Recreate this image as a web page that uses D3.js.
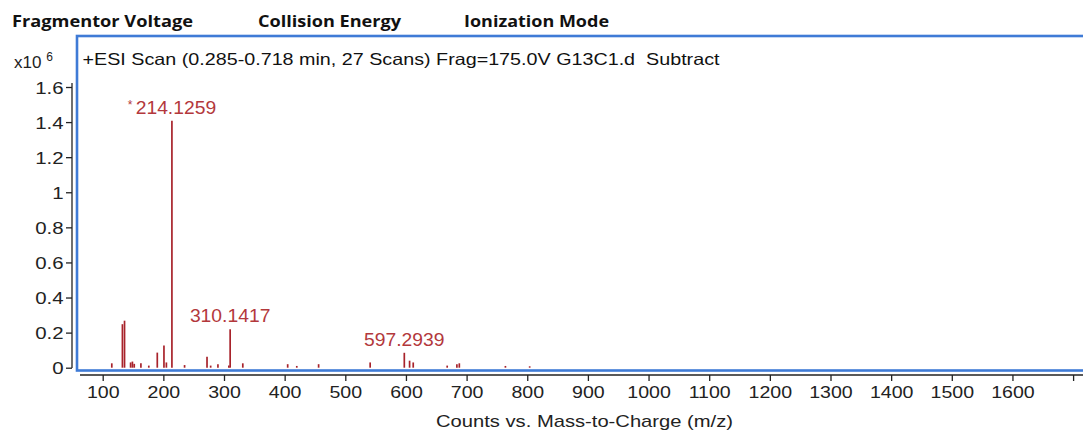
<!DOCTYPE html>
<html><head><meta charset="utf-8">
<script src="https://cdn.jsdelivr.net/npm/d3@7"></script>
<style>body{margin:0;background:#fff}svg{display:block}text{white-space:pre}</style>
</head><body>
<svg id="c" width="1083" height="433"></svg>
<script>
const headers = ["Fragmentor Voltage", "Collision Energy", "Ionization Mode"];
const titleText = "+ESI Scan (0.285-0.718 min, 27 Scans) Frag=175.0V G13C1.d  Subtract";
const xLabel = "Counts vs. Mass-to-Charge (m/z)";
const peakMz = [115, 132.5, 136, 146, 149, 152, 163, 176, 190, 201, 205, 214.1259, 235, 272, 278, 290, 308, 310.1417, 331, 405, 420, 456, 541, 597.2939, 606, 612, 668, 684, 688, 764, 804];
const peakInt = [0.025, 0.248, 0.268, 0.03, 0.035, 0.022, 0.025, 0.012, 0.086, 0.126, 0.03, 1.408, 0.015, 0.063, 0.012, 0.02, 0.012, 0.219, 0.025, 0.02, 0.01, 0.02, 0.03, 0.085, 0.04, 0.03, 0.012, 0.02, 0.025, 0.01, 0.008];
const labelMz = [214.1259, 310.1417, 597.2939];
const labelInt = [1.408, 0.219, 0.085];
const labelText = ["214.1259", "310.1417", "597.2939"];
const labelStar = [true, false, false];
const xTicks = [100,200,300,400,500,600,700,800,900,1000,1100,1200,1300,1400,1500,1600,1700];
const xTickLabels = ["100","200","300","400","500","600","700","800","900","1000","1100","1200","1300","1400","1500","1600",""];
const yTicks = [0,0.2,0.4,0.6,0.8,1,1.2,1.4,1.6];
const yTickLabels = ["0","0.2","0.4","0.6","0.8","1","1.2","1.4","1.6"];

const svg = d3.select("#c");
const font = "'Liberation Sans', Arial, sans-serif";
const x = d3.scaleLinear().domain([100, 1700]).range([102.7, 1073.1]);
const y = d3.scaleLinear().domain([0, 1.6]).range([367.7, 87]);

function stretch(sel, k) {
  sel.each(function(){
    const L = this.getComputedTextLength();
    if (L > 0) d3.select(this).attr("textLength", L * k).attr("lengthAdjust", "spacingAndGlyphs");
  });
}
function fit(sel, w) {
  sel.attr("textLength", w).attr("lengthAdjust", "spacingAndGlyphs");
}

// header
const hx = [12, 258, 464];
const hw = [181, 143, 145];
svg.selectAll("text.hdr").data(headers).join("text").attr("class","hdr")
  .attr("x", (d,i)=>hx[i]).attr("y", 27)
  .attr("font-family", "'Open Sans', 'DejaVu Sans', sans-serif").attr("font-weight", "bold")
  .attr("font-size", 16).attr("fill", "#111").text(d=>d)
  .each(function(d,i){ fit(d3.select(this), hw[i]); });

// y axis
const yAxis = d3.axisLeft(y).tickValues(yTicks).tickFormat((d,i)=>yTickLabels[i]).tickSize(6).tickSizeOuter(0);
const gy = svg.append("g").attr("transform","translate(72,0)").call(yAxis);
gy.select(".domain").attr("d", "M0,83V368").attr("stroke","#222").attr("stroke-width",1.3);
gy.selectAll(".tick line").attr("stroke","#222").attr("stroke-width",1.3);
const yt = gy.selectAll(".tick text").attr("font-family", font).attr("font-size", 17).attr("fill","#222").attr("x",-8.5).attr("dy","0.36em");
stretch(yt, 1.2);

// x axis
const xAxis = d3.axisBottom(x).tickValues(xTicks).tickFormat((d,i)=>xTickLabels[i]).tickSize(6).tickSizeOuter(0);
const gx = svg.append("g").attr("transform","translate(0,375)").call(xAxis);
gx.select(".domain").attr("d", "M80,0H1083").attr("stroke","#222").attr("stroke-width",1.3);
gx.selectAll(".tick line").attr("stroke","#222").attr("stroke-width",1.3);
const xt = gx.selectAll(".tick text").attr("font-family", font).attr("font-size", 17).attr("fill","#222").attr("y",11);
stretch(xt, 1.15);

const xl = svg.append("text").attr("x", 584.5).attr("y", 427).attr("text-anchor","middle")
  .attr("font-family", font).attr("font-size", 17).attr("fill","#222").text(xLabel);
fit(xl, 297);

// y multiplier
const mult = svg.append("text").attr("x", 14).attr("y", 68).attr("font-family", font).attr("font-size", 17).attr("fill","#222");
mult.append("tspan").text("x10 ");
mult.append("tspan").attr("font-size", 12).attr("dy", -7).text("6");

// plot box
svg.append("rect").attr("x", 77).attr("y", 36).attr("width", 1020).attr("height", 334.5)
  .attr("fill","none").attr("stroke","#3f7bd6").attr("stroke-width",2.6);

const tt = svg.append("text").attr("x", 82.5).attr("y", 65).attr("font-family", font).attr("font-size", 16.5).attr("fill","#111").text(titleText);
fit(tt, 637);

// peaks
svg.append("g").selectAll("line").data(peakMz).join("line")
  .attr("x1", d=>x(d)).attr("x2", d=>x(d))
  .attr("y1", y(0)).attr("y2", (d,i)=>y(peakInt[i]))
  .attr("stroke", "#a8232b").attr("stroke-width", 1.7);

// labels
const lg = svg.append("g").selectAll("text").data(labelMz).join("text")
  .attr("x", d=>x(d)).attr("y", (d,i)=>y(labelInt[i]) - 7)
  .attr("text-anchor","middle").attr("font-family", font).attr("font-size", 18.5).attr("fill","#b3383c");
lg.each(function(d,i){
  const t = d3.select(this);
  if (labelStar[i]) t.append("tspan").attr("font-size", 12).attr("dy", -5).text("* ");
  const n = t.append("tspan").attr("dy", labelStar[i] ? 5 : 0).text(labelText[i]);
  n.attr("textLength", 80.5).attr("lengthAdjust", "spacingAndGlyphs");
});
</script>
</body></html>
